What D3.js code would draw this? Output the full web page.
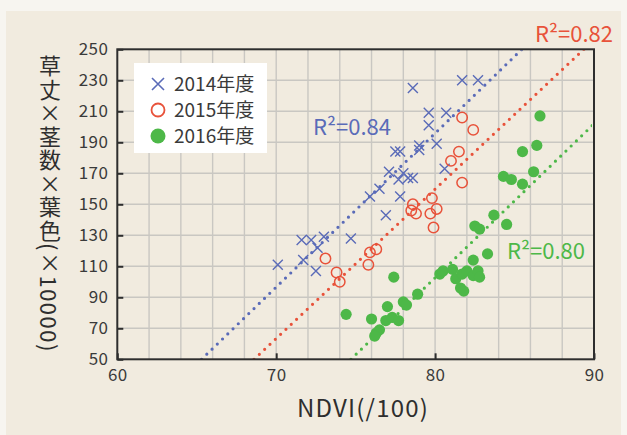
<!DOCTYPE html>
<html>
<head>
<meta charset="utf-8">
<script src="https://cdn.jsdelivr.net/npm/d3@7"></script>
<style>
  html, body { margin: 0; padding: 0; background: #f7f5f0; }
  svg { display: block; }
  text { font-family: "Noto Sans CJK JP", "Noto Sans", sans-serif; }
</style>
</head>
<body>
<svg id="chart" width="627" height="435"></svg>
<script>
// NDVI (/100) vs. plant height × tiller number × leaf colour (×10000)
const years = ["2014年度", "2015年度", "2016年度"];
const colors = ["#5a6bb8", "#e8523a", "#4db848"];
const r2Labels = ["R²=0.84", "R²=0.82", "R²=0.80"];

const data2014 = [
  [70.1, 111], [71.6, 127], [72.2, 127], [73.0, 129], [72.6, 122], [71.7, 114],
  [72.5, 107], [74.7, 128], [75.9, 155], [76.5, 160], [76.9, 143], [77.8, 155],
  [77.1, 171], [78.0, 170], [77.7, 166], [78.3, 167], [78.6, 167], [77.5, 184],
  [77.8, 184], [79.0, 188], [79.0, 185], [80.1, 189], [80.6, 173], [79.6, 209],
  [80.7, 209], [79.6, 201], [78.6, 225], [81.7, 230], [82.7, 230]
];
const data2015 = [
  [73.1, 115], [73.8, 106], [74.0, 100], [75.8, 111], [75.9, 119], [76.3, 121],
  [78.6, 150], [78.5, 146], [78.8, 144], [79.8, 154], [80.1, 147], [79.7, 144],
  [79.9, 135], [81.7, 206], [82.4, 198], [81.5, 184], [81.0, 178], [81.7, 164]
];
const data2016 = [
  [86.6, 207], [86.4, 188], [85.5, 184], [86.2, 171], [84.3, 168], [84.8, 166],
  [85.5, 163], [83.7, 143], [84.5, 137], [82.5, 136], [82.8, 134], [83.3, 118],
  [82.4, 114], [77.4, 103], [80.3, 105], [80.5, 107], [81.1, 108], [81.3, 102],
  [81.7, 105], [82.0, 107], [82.4, 104], [82.7, 107], [82.8, 103], [81.6, 96],
  [81.8, 94], [78.9, 92], [78.0, 87], [78.2, 85], [77.0, 84], [74.4, 79],
  [76.0, 76], [76.9, 75], [77.3, 77], [77.7, 75], [76.5, 69], [76.3, 67], [76.2, 65]
];
// linear fits: [slope, intercept]
const fits = [[9.92, -597.8], [9.635, -611.0], [9.93, -691.8]];

const xTicks = [60, 70, 80, 90];
const yTicks = [50, 70, 90, 110, 130, 150, 170, 190, 210, 230, 250];
const xGrid = d3.range(62, 90, 2);

const svg = d3.select("#chart");
const W = 627, H = 435;
const L = 117.3, R = 594, T = 49.3, B = 359.3;

const x = d3.scaleLinear().domain([60, 90]).range([L, R]);
const y = d3.scaleLinear().domain([50, 250]).range([B, T]);

// panel background
svg.append("rect").attr("x", 6).attr("y", 11).attr("width", 615).attr("height", H - 11)
  .attr("fill", "#f1ebdf");

// grid
const grid = svg.append("g").attr("stroke", "#c9c7c2").attr("stroke-width", 1.4);
grid.selectAll(".vx").data(xGrid).join("line")
  .attr("x1", d => x(d)).attr("x2", d => x(d)).attr("y1", T).attr("y2", B);
grid.selectAll(".hy").data(yTicks.slice(1, -1)).join("line")
  .attr("x1", L).attr("x2", R).attr("y1", d => y(d)).attr("y2", d => y(d));

// legend box
const lg = svg.append("g");
lg.append("rect").attr("x", 134).attr("y", 63).attr("width", 133).attr("height", 90).attr("fill", "#ffffff");

// trend lines (dotted)
svg.append("defs").append("clipPath").attr("id", "plotclip")
  .append("rect").attr("x", L).attr("y", T + 1).attr("width", R - L - 2).attr("height", B - T - 1);
const trend = svg.append("g").attr("clip-path", "url(#plotclip)");
fits.forEach((f, i) => {
  const [m, b] = f;
  const x0 = (50 - b) / m;
  const x1 = Math.min(90, (250 - b) / m);
  trend.append("line")
    .attr("x1", x(x0)).attr("y1", y(m * x0 + b))
    .attr("x2", x(x1)).attr("y2", y(m * x1 + b))
    .attr("stroke", colors[i]).attr("stroke-width", 3.2)
    .attr("stroke-linecap", "round").attr("stroke-dasharray", "0 7.3");
});

// axes
const fontTick = 17;
const yAxis = d3.axisLeft(y).tickValues(yTicks).tickSizeInner(-6).tickSizeOuter(0).tickPadding(9);
const gy = svg.append("g").attr("transform", `translate(${L},0)`).call(yAxis);
const xAxis = d3.axisBottom(x).tickValues(xTicks).tickSizeInner(-6).tickSizeOuter(0).tickPadding(10);
const gx = svg.append("g").attr("transform", `translate(0,${B})`).call(xAxis);
[gx, gy].forEach(g => {
  g.select(".domain").remove();
  g.selectAll(".tick line").attr("stroke", "#2e2e2e").attr("stroke-width", 2);
  g.selectAll(".tick text").attr("fill", "#3a3a3a")
    .style("font-family", '"Noto Sans CJK JP", sans-serif').style("font-size", fontTick + "px")
    .style("letter-spacing", "0.4px");
});

// frame
svg.append("rect").attr("x", L).attr("y", T).attr("width", R - L).attr("height", B - T)
  .attr("fill", "none").attr("stroke", "#2e2e2e").attr("stroke-width", 2);

// points
const crossPath = s => `M${-s},${-s}L${s},${s}M${-s},${s}L${s},${-s}`;
svg.append("g").selectAll("path").data(data2014).join("path")
  .attr("transform", d => `translate(${x(d[0])},${y(d[1])})`)
  .attr("d", crossPath(5)).attr("fill", "none").attr("stroke", colors[0]).attr("stroke-width", 1.4);
svg.append("g").selectAll("circle").data(data2015).join("circle")
  .attr("cx", d => x(d[0])).attr("cy", d => y(d[1])).attr("r", 5.2)
  .attr("fill", "none").attr("stroke", colors[1]).attr("stroke-width", 1.5);
svg.append("g").selectAll("circle").data(data2016).join("circle")
  .attr("cx", d => x(d[0])).attr("cy", d => y(d[1])).attr("r", 5.6)
  .attr("fill", colors[2]);

// legend entries
const lx = 158, ly = [84, 110, 136];
lg.append("path").attr("transform", `translate(${lx},${ly[0]})`).attr("d", crossPath(6))
  .attr("fill", "none").attr("stroke", colors[0]).attr("stroke-width", 1.6);
lg.append("circle").attr("cx", lx).attr("cy", ly[1]).attr("r", 6.5)
  .attr("fill", "none").attr("stroke", colors[1]).attr("stroke-width", 1.8);
lg.append("circle").attr("cx", lx).attr("cy", ly[2]).attr("r", 7.5).attr("fill", colors[2]);
lg.selectAll("text").data(years).join("text")
  .attr("x", 174).attr("y", (d, i) => ly[i]).attr("dy", "0.36em")
  .attr("fill", "#3a3a3a").style("font-size", "19px").text(d => d);

// R² labels
const r2Pos = [[313, 135], [535, 42], [507, 259]];
svg.selectAll(".r2").data(r2Labels).join("text")
  .attr("x", (d, i) => r2Pos[i][0]).attr("y", (d, i) => r2Pos[i][1])
  .attr("fill", (d, i) => colors[i]).style("font-size", "22px").text(d => d);

// axis titles
svg.append("text").attr("x", 363).attr("y", 417).attr("text-anchor", "middle")
  .attr("fill", "#2e2e2e").style("font-size", "24px").style("letter-spacing", "1.2px")
  .text("NDVI(/100)");
svg.append("text").attr("x", 50).attr("y", 55)
  .style("writing-mode", "vertical-rl").style("text-orientation", "mixed")
  .style("letter-spacing", "1.5px")
  .attr("fill", "#2e2e2e").style("font-size", "22px").text("草丈×茎数×葉色(×10000)");
</script>
</body>
</html>
